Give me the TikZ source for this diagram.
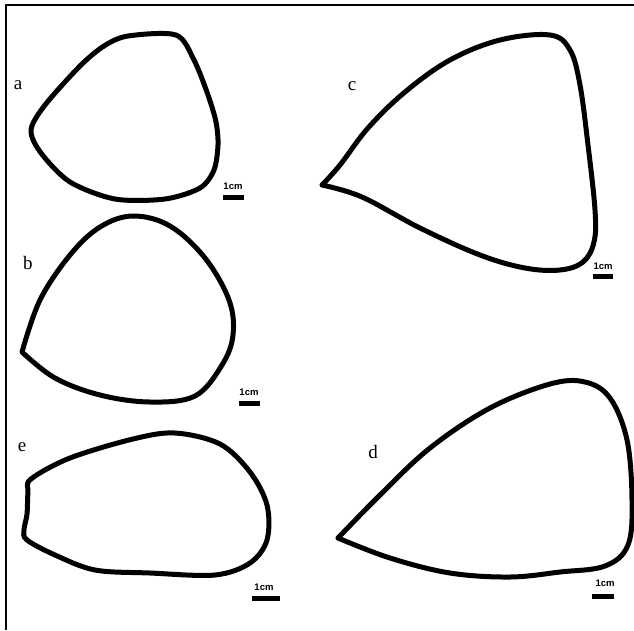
\documentclass[tikz,border=0pt]{standalone}
\usepackage{fontspec}
\usepackage{tikz}
\usetikzlibrary{positioning}
\newfontfamily\escalafont{Liberation Sans}
\newfontfamily\letrafont{Liberation Serif}
\tikzstyle{contorno} = [line width=5pt, line join=round, line cap=round]
\tikzstyle{barra} = [fill=black, draw=none]

\begin{document}
\begin{tikzpicture}[
        x=1pt, y=-1pt,
        % Estilo para las letras de cada figura
        letra/.style={font=\letrafont\fontsize{19}{19}\selectfont, inner sep=0pt},
        escala/.style={font=\escalafont\fontsize{9.5}{9.5}\selectfont\bfseries, inner sep=0pt},
    ]
        \useasboundingbox (0,0) rectangle (634,630);

        % 1. Marco (solo arriba e izquierda)
        \draw[line width=2.4pt] (634,5) -- (6,5) -- (6,630);

        % 2. Figura a
        \draw[contorno] plot[smooth cycle, tension=0.5] coordinates {
            (128,36) (176,35) (194,60) (208,95) (216,122) (218,145) (214,170)
            (200,188) (165,199) (115,199) (70,182) (41,153) (31,130)
            (45,105) (80,66) (104,46)};
        \node[letra] (a) at (18,85) {a};
        \node[escala] (cm-a) at (233,186) {1cm};
        \draw[barra] (222.5,195) rectangle (243.5,199.5);

        % 3. Figura b
        \draw[contorno] plot[smooth, tension=0.6] coordinates {
            (22,352) (40,300) (70,255) (100,227) (133,216) (170,226)
            (205,258) (229,300) (233,335) (222,365) (195,396) (150,402)
            (100,395) (55,378) (22,352)};
        \node[letra] (b) at (28,263) {b};
        \node[escala] (cm-b) at (249,392) {1cm};
        \draw[barra] (238.5,401) rectangle (259.5,405.5);

        % 4. Figura c
        \draw[contorno] plot[smooth, tension=0.6] coordinates {
            (322,185) (340,165) (368,128) (405,92) (450,60) (500,40)
            (550,35) (570,50) (580,85) (588,145) (595,210) (594,242)
            (583,262) (560,270) (525,268) (480,255) (420,228) (362,197)
            (322,185)};
        \node[letra] (c) at (352,86) {c};
        \node[escala] (cm-c) at (603,266) {1cm};
        \draw[barra] (593,274) rectangle (613,278.5);

        % 5. Figura e
        \draw[contorno] plot[smooth cycle, tension=0.55] coordinates {
            (31,479) (70,458) (133,439) (175,433) (220,444) (250,472)
            (267,505) (267,540) (250,563) (215,575) (150,573) (95,570)
            (55,555) (27,540) (24,530) (27,514) (28,492)};
        \node[letra] (e) at (22,447) {e};
        \node[escala] (cm-e) at (264,587) {1cm};
        \draw[barra] (252,596) rectangle (280,600.5);

        % 6. Figura d
        \draw[contorno] plot[smooth, tension=0.6] coordinates {
            (338,538) (380,495) (430,448) (490,408) (550,384) (585,382)
            (610,398) (627,440) (632,500) (628,545) (605,566) (560,572)
            (510,577) (450,573) (390,558) (338,538)};
        \node[letra] (d) at (373,452) {d};
        \node[escala] (cm-d) at (605,583) {1cm};
        \draw[barra] (592,594) rectangle (614,598.5);

    \end{tikzpicture}
\end{document}
